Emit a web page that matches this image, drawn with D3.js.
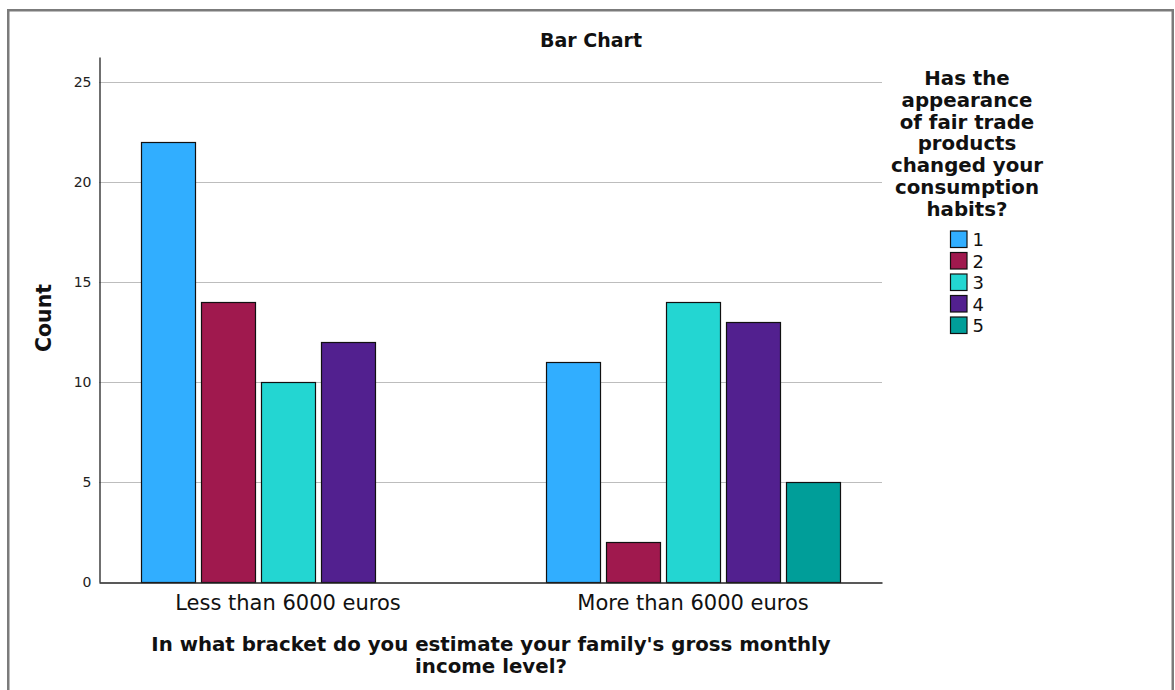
<!DOCTYPE html>
<html>
<head>
<meta charset="utf-8">
<script src="https://cdn.jsdelivr.net/npm/d3@7"></script>
<style>
  html, body { margin: 0; padding: 0; background: #fff; }
  svg { display: block; font-family: "DejaVu Sans", Verdana, sans-serif; }
</style>
</head>
<body>
<svg id="chart" width="1175" height="690"></svg>
<script>
// ---- data ----
const categories = ["Less than 6000 euros", "More than 6000 euros"];
const seriesKeys = ["1", "2", "3", "4", "5"];
const seriesColors = ["#31aeff", "#a0194e", "#23d6d2", "#52208f", "#009e99"];
const valuesLess = [22, 14, 10, 12, 0];
const valuesMore = [11, 2, 14, 13, 5];
const yTicks = [0, 5, 10, 15, 20, 25];
const chartTitle = "Bar Chart";
const yTitle = "Count";
const xTitleLines = ["In what bracket do you estimate your family's gross monthly", "income level?"];
const legendTitleLines = ["Has the", "appearance", "of fair trade", "products", "changed your", "consumption", "habits?"];

const seriesValues = [valuesLess, valuesMore];

// ---- layout ----
const svg = d3.select("#chart");
const plot = { left: 99, right: 882, top: 57, bottom: 582 };

// frame
svg.append("rect")
  .attr("x", 8.25).attr("y", 10.25)
  .attr("width", 1164.5).attr("height", 700)
  .attr("fill", "#fff").attr("stroke", "#7b7b7b").attr("stroke-width", 2.5);

const x0 = d3.scaleBand().domain(categories)
  .range([plot.left, plot.right]).paddingInner(0.2593).paddingOuter(0.0963);
const x1 = d3.scaleBand().domain(seriesKeys)
  .range([0, x0.bandwidth()]).paddingInner(0.1).paddingOuter(0.05);
const y = d3.scaleLinear().domain([0, 26.25]).range([plot.bottom, plot.top]);
const color = d3.scaleOrdinal().domain(seriesKeys).range(seriesColors);

// gridlines
svg.append("g").selectAll("line").data(yTicks.filter(d => d > 0)).join("line")
  .attr("x1", plot.left).attr("x2", plot.right)
  .attr("y1", d => Math.round(y(d)) + 0.5).attr("y2", d => Math.round(y(d)) + 0.5)
  .attr("stroke", "#bdbdbd").attr("stroke-width", 1);

// bars
const groups = svg.append("g").selectAll("g").data(categories).join("g")
  .attr("transform", d => `translate(${x0(d)},0)`);
groups.selectAll("rect")
  .data((c, i) => seriesKeys.map((k, j) => ({ key: k, value: seriesValues[i][j] })).filter(d => d.value > 0))
  .join("rect")
  .attr("x", d => x1(d.key) + 0.5)
  .attr("y", d => y(d.value) + 0.5)
  .attr("width", x1.bandwidth())
  .attr("height", d => y(0) - y(d.value))
  .attr("fill", d => color(d.key))
  .attr("stroke", "#111").attr("stroke-width", 1.2);

// y axis
const yAxis = d3.axisLeft(y).tickValues(yTicks).tickSize(0).tickPadding(8);
const gy = svg.append("g").attr("transform", `translate(${plot.left + 0.5},0)`).call(yAxis);
gy.select(".domain").attr("stroke", "#222").attr("stroke-width", 1.3);
gy.selectAll("text").attr("font-size", 14).attr("fill", "#222")
  .attr("font-family", "DejaVu Sans, sans-serif");

// x axis
const xAxis = d3.axisBottom(x0).tickSize(0).tickPadding(13);
const gx = svg.append("g").attr("transform", `translate(0,${plot.bottom + 0.5})`).call(xAxis);
gx.select(".domain").attr("stroke", "#222").attr("stroke-width", 1.5);
gx.selectAll("text").attr("font-size", 21).attr("fill", "#111")
  .attr("font-family", "DejaVu Sans, sans-serif").attr("dy", "0.71em");

// title
svg.append("text").attr("x", 591).attr("y", 47)
  .attr("text-anchor", "middle").attr("font-weight", "bold").attr("font-size", 19)
  .attr("fill", "#111").text(chartTitle);

// y title
svg.append("text").attr("transform", "translate(51,318) rotate(-90)")
  .attr("text-anchor", "middle").attr("font-weight", "bold").attr("font-size", 20.5)
  .attr("fill", "#111").text(yTitle);

// x title
svg.append("text").attr("text-anchor", "middle").attr("font-weight", "bold")
  .attr("font-size", 19.8).attr("fill", "#111")
  .selectAll("tspan").data(xTitleLines).join("tspan")
  .attr("x", 491).attr("y", (d, i) => 651 + i * 22).text(d => d);

// legend title
svg.append("text").attr("text-anchor", "middle").attr("font-weight", "bold")
  .attr("font-size", 19.8).attr("fill", "#111")
  .selectAll("tspan").data(legendTitleLines).join("tspan")
  .attr("x", 967).attr("y", (d, i) => 85 + i * 21.8).text(d => d);

// legend items
const legend = svg.append("g").selectAll("g").data(seriesKeys).join("g")
  .attr("transform", (d, i) => `translate(950.5,${231 + i * 21.5})`);
legend.append("rect").attr("width", 16.5).attr("height", 16.5)
  .attr("fill", d => color(d)).attr("stroke", "#111").attr("stroke-width", 1.2);
legend.append("text").attr("x", 22).attr("y", 15).attr("font-size", 18)
  .attr("fill", "#111").text(d => d);
</script>
</body>
</html>
